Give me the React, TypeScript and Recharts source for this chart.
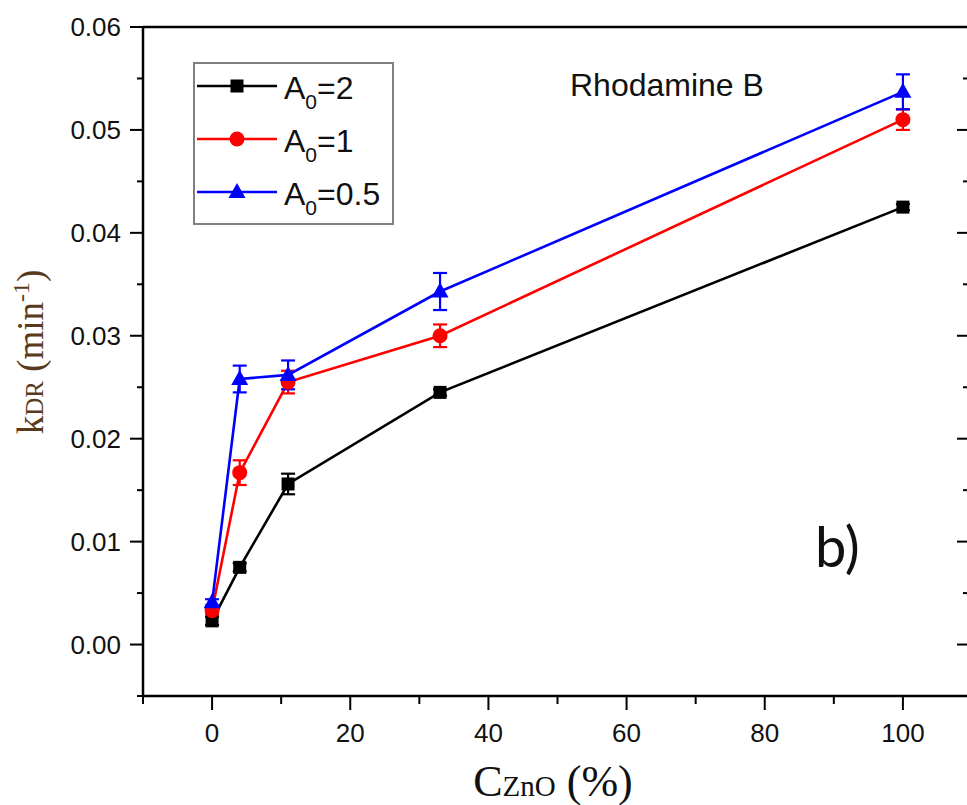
import React from 'react';
import { LineChart, Line, XAxis, YAxis, ErrorBar, Legend } from 'recharts';

// ZnO content (%) and first-order rate constants
const concentrations = [0, 4, 11, 33, 100];
const kA2 = [0.0023, 0.0075, 0.0156, 0.0245, 0.0425];
const errA2 = [0.0004, 0.0004, 0.001, 0.0003, 0.0003];
const kA1 = [0.0033, 0.0167, 0.0255, 0.03, 0.051];
const errA1 = [0.0003, 0.0012, 0.0011, 0.0011, 0.001];
const kA05 = [0.0041, 0.0258, 0.0262, 0.0343, 0.0537];
const errA05 = [0.0003, 0.0013, 0.0014, 0.0018, 0.0017];

const xTicks = [-10, 0, 10, 20, 30, 40, 50, 60, 70, 80, 90, 100, 110];
const yTicks = [-0.005, 0, 0.005, 0.01, 0.015, 0.02, 0.025, 0.03, 0.035, 0.04, 0.045, 0.05, 0.055, 0.06];

const data = concentrations.map((c, i) => ({
  c,
  a2: kA2[i],
  a2Err: errA2[i],
  a1: kA1[i],
  a1Err: errA1[i],
  a05: kA05[i],
  a05Err: errA05[i],
}));

const SANS = '"Liberation Sans", Arial, sans-serif';
const SERIF = '"Liberation Serif", "Times New Roman", serif';

const isMajorY = (v: number) => Math.abs(v * 100 - Math.round(v * 100)) < 1e-6;
const isMajorX = (v: number) => v % 20 === 0;

const BottomTick = ({ x, y, payload }: any) => {
  const major = isMajorX(payload.value);
  return (
    <g>
      <line x1={x} x2={x} y1={y} y2={y + (major ? 14 : 8)} stroke="#000" strokeWidth={2} />
      {major && (
        <text x={x} y={y + 46} textAnchor="middle" fontFamily={SANS} fontSize={26} fill="#111">
          {payload.value}
        </text>
      )}
    </g>
  );
};

const LeftTick = ({ x, y, payload }: any) => {
  const major = isMajorY(payload.value);
  return (
    <g>
      <line x1={x - (major ? 13 : 6)} x2={x} y1={y} y2={y} stroke="#000" strokeWidth={2} />
      {major && (
        <text x={x - 22} y={y + 9} textAnchor="end" fontFamily={SANS} fontSize={26} fill="#111">
          {payload.value.toFixed(2)}
        </text>
      )}
    </g>
  );
};

const TopTick = ({ x, y, payload }: any) => {
  const major = isMajorX(payload.value);
  return <line x1={x} x2={x} y1={y} y2={y + (major ? 15 : 9)} stroke="#000" strokeWidth={2} />;
};

const RightTick = ({ x, y, payload }: any) => {
  const major = isMajorY(payload.value);
  return <line x1={x - (major ? 15 : 9)} x2={x} y1={y} y2={y} stroke="#000" strokeWidth={2} />;
};

const square = (color: string) => (p: any) => (
  <rect key={`s-${p.index}`} x={p.cx - 6.5} y={p.cy - 6.5} width={13} height={13} fill={color} />
);
const circle = (color: string) => (p: any) => (
  <circle key={`c-${p.index}`} cx={p.cx} cy={p.cy} r={7.5} fill={color} />
);
const triangle = (color: string) => (p: any) => (
  <polygon
    key={`t-${p.index}`}
    points={`${p.cx},${p.cy - 9} ${p.cx - 8.5},${p.cy + 6} ${p.cx + 8.5},${p.cy + 6}`}
    fill={color}
  />
);

const series = [
  { key: 'a2', label: '2', color: '#000000', dot: square },
  { key: 'a1', label: '1', color: '#ff0000', dot: circle },
  { key: 'a05', label: '0.5', color: '#0000ff', dot: triangle },
];

const LegendBox = () => (
  <svg width={197} height={159}>
    {series.map((s, i) => {
      const y = 22 + i * 53;
      return (
        <g key={s.key}>
          <line x1={2} x2={82} y1={y} y2={y} stroke={s.color} strokeWidth={2.6} />
          {s.dot(s.color)({ cx: 42, cy: y, index: i })}
          <text x={89} y={y + 13} fontFamily={SANS} fontSize={32} fill="#111">
            A
            <tspan fontSize={21} dy={10}>0</tspan>
            <tspan dy={-10}>={s.label}</tspan>
          </text>
        </g>
      );
    })}
  </svg>
);

export default function App() {
  return (
    <div style={{ position: 'absolute', left: 0, top: 0, width: 967, height: 805, overflow: 'hidden', background: '#fff' }}>
      <LineChart width={990} height={805} data={data} margin={{ top: 17, right: 8, bottom: 0, left: 0 }}>
        <XAxis
          xAxisId="b"
          dataKey="c"
          type="number"
          domain={[-10, 110]}
          allowDataOverflow
          ticks={xTicks}
          interval={0}
          height={109}
          tickSize={0}
          tickMargin={0}
          tickLine={false}
          tick={<BottomTick />}
          axisLine={{ stroke: '#000', strokeWidth: 2.5 }}
        />
        <XAxis
          xAxisId="t"
          orientation="top"
          type="number"
          domain={[-10, 110]}
          allowDataOverflow
          ticks={xTicks}
          interval={0}
          height={10}
          tickSize={0}
          tickMargin={0}
          tickLine={false}
          tick={<TopTick />}
          axisLine={{ stroke: '#000', strokeWidth: 2.5 }}
        />
        <YAxis
          yAxisId="l"
          type="number"
          domain={[-0.005, 0.06]}
          allowDataOverflow
          ticks={yTicks}
          interval={0}
          width={143}
          tickSize={0}
          tickMargin={0}
          tickLine={false}
          tick={<LeftTick />}
          axisLine={{ stroke: '#000', strokeWidth: 2.5 }}
        />
        <YAxis
          yAxisId="r"
          orientation="right"
          type="number"
          domain={[-0.005, 0.06]}
          allowDataOverflow
          ticks={yTicks}
          interval={0}
          width={10}
          tickSize={0}
          tickMargin={0}
          tickLine={false}
          tick={<RightTick />}
          axisLine={{ stroke: '#000', strokeWidth: 2.5 }}
        />
        <Legend
          layout="vertical"
          align="center"
          verticalAlign="middle"
          content={() => <LegendBox />}
          wrapperStyle={{
            left: 193,
            top: 62,
            width: 201,
            height: 163,
            border: '2px solid #808080',
            boxSizing: 'border-box',
            background: '#fff',
            lineHeight: 0,
          }}
        />
        {series.map((s) => (
          <Line
            key={s.key}
            xAxisId="b"
            yAxisId="l"
            type="linear"
            dataKey={s.key}
            stroke={s.color}
            strokeWidth={2.6}
            dot={s.dot(s.color)}
            activeDot={false}
            isAnimationActive={false}
          >
            <ErrorBar dataKey={`${s.key}Err`} direction="y" width={7} strokeWidth={2.2} stroke={s.color} />
          </Line>
        ))}
      </LineChart>
      <svg
        width={967}
        height={805}
        style={{ position: 'absolute', left: 0, top: 0, pointerEvents: 'none' }}
      >
        <text x={570} y={96} fontFamily={SANS} fontSize={32} fill="#111">
          Rhodamine B
        </text>
        <text x={815} y={567} fontFamily='Lato, "Open Sans", sans-serif' fontSize={56} fill="#111">
          b)
        </text>
        <text x={553} y={796} textAnchor="middle" fontFamily={SERIF} fontSize={44} fill="#111">
          C<tspan fontSize={29}>ZnO</tspan> (%)
        </text>
        <text
          transform="translate(43,352) rotate(-90)"
          textAnchor="middle"
          fontFamily={SERIF}
          fontSize={37}
          fill="#5a3a1c"
        >
          k<tspan fontSize={25}>DR</tspan> (min
          <tspan fontSize={24} dy={-14}>-1</tspan>
          <tspan dy={14}>)</tspan>
        </text>
      </svg>
    </div>
  );
}
